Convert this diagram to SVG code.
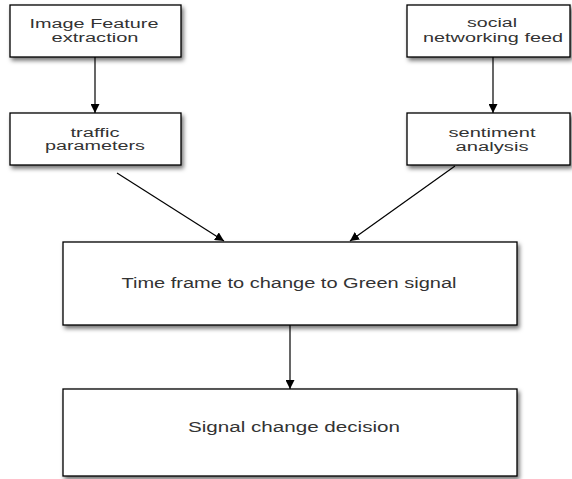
<svg xmlns="http://www.w3.org/2000/svg" width="572" height="479" viewBox="0 0 572 479">
  <defs>
    <filter id="shadow" x="-10%" y="-10%" width="125%" height="135%">
      <feDropShadow dx="2" dy="3" stdDeviation="2" flood-color="#000" flood-opacity="0.55"/>
    </filter>
    <marker id="arrow" viewBox="0 0 10 10" refX="10" refY="5" markerWidth="9" markerHeight="9" markerUnits="userSpaceOnUse" orient="auto">
      <path d="M0,0 L10,5 L0,10 Z" fill="#000"/>
    </marker>
  </defs>
  <style>
    .box { fill: #fff; stroke: #000; stroke-width: 1.3; filter: url(#shadow); }
    .lbl { font-family: "Liberation Sans", Arial, sans-serif; font-size: 12px; fill: #333; text-anchor: middle; }
    .big { font-size: 14px; }
    .edge { stroke: #000; stroke-width: 1.2; fill: none; marker-end: url(#arrow); }
  </style>
  <rect width="572" height="479" fill="#fff"/>

  <g id="connectors">
    <line class="edge" x1="95" y1="57" x2="95" y2="113"/>
    <line class="edge" x1="493" y1="57" x2="493" y2="113"/>
    <line class="edge" x1="117" y1="173" x2="224" y2="241"/>
    <line class="edge" x1="455" y1="166" x2="350" y2="241"/>
    <line class="edge" x1="290" y1="325" x2="290" y2="389"/>
  </g>

  <g id="image-feature-extraction">
    <rect class="box" x="10" y="5" width="171" height="52"/>
    <text class="lbl" x="94" y="28" textLength="129" lengthAdjust="spacingAndGlyphs">Image Feature</text>
    <text class="lbl" x="95" y="42" textLength="87" lengthAdjust="spacingAndGlyphs">extraction</text>
  </g>

  <g id="social-networking-feed">
    <rect class="box" x="407" y="5" width="163" height="52"/>
    <text class="lbl" x="492" y="27" textLength="50" lengthAdjust="spacingAndGlyphs">social</text>
    <text class="lbl" x="493" y="41.5" textLength="140" lengthAdjust="spacingAndGlyphs">networking feed</text>
  </g>

  <g id="traffic-parameters">
    <rect class="box" x="10" y="113" width="171" height="52"/>
    <text class="lbl" x="95" y="136.5" textLength="49" lengthAdjust="spacingAndGlyphs">traffic</text>
    <text class="lbl" x="95" y="150" textLength="100" lengthAdjust="spacingAndGlyphs">parameters</text>
  </g>

  <g id="sentiment-analysis">
    <rect class="box" x="407" y="113" width="163" height="52"/>
    <text class="lbl" x="492" y="136.5" textLength="87" lengthAdjust="spacingAndGlyphs">sentiment</text>
    <text class="lbl" x="492" y="150.5" textLength="73" lengthAdjust="spacingAndGlyphs">analysis</text>
  </g>

  <g id="time-frame">
    <rect class="box" x="63" y="242" width="454" height="83"/>
    <text class="lbl big" x="289" y="287.5" textLength="335" lengthAdjust="spacingAndGlyphs">Time frame to change to Green signal</text>
  </g>

  <g id="signal-change-decision">
    <rect class="box" x="63" y="389" width="454" height="87"/>
    <text class="lbl big" x="294" y="431.5" textLength="212" lengthAdjust="spacingAndGlyphs">Signal change decision</text>
  </g>
</svg>
